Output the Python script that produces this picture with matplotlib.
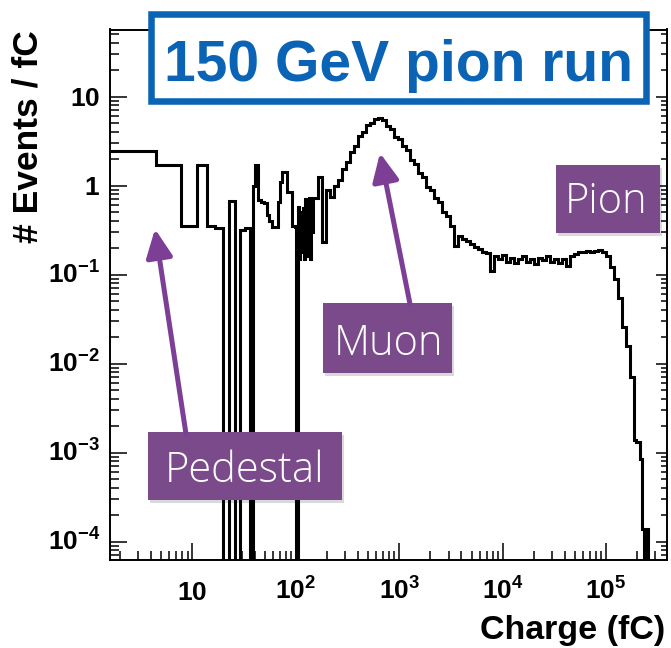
import numpy as np
import matplotlib.pyplot as plt
from matplotlib import patches, transforms
from matplotlib.ticker import FixedLocator, LogLocator, NullFormatter

# histogram: bin edges in fC, events / fC per bin (0 = empty bin)
edges = [1.6, 4.5, 7.7, 11.1, 13.9, 16.5, 19.9, 22.7, 26.0, 28.8, 32.2, 36.5, 38.5,
         40.5, 43.5, 46.5, 49.5, 52.5, 55.5, 58.5, 61.5, 64.5, 67.5, 70.5, 73.5,
         76.5, 79.5, 82.5, 85.5, 88.5, 91.5, 94.5, 97.5, 100.5, 105,
         108, 111, 114, 117, 120, 123, 126, 129, 132, 135, 138, 141, 144, 147, 150,
         164, 179, 196, 214, 234, 255, 279, 305, 334, 365,
         399, 436, 476, 521, 569, 622, 680, 744, 813, 889,
         971, 1062, 1161, 1269, 1387, 1517, 1658, 1812, 1981, 2166,
         2367, 2588, 2829, 3093, 3381, 3696, 4040, 4417, 4829, 5278,
         5770, 6307, 6895, 7537, 8240, 9006, 9845, 10760, 11770, 12860,
         14060, 15370, 16800, 18370, 20080, 21950, 23990, 26230, 28670, 31340,
         34260, 37450, 40950, 44760, 48930, 53480, 58470, 63920, 69870, 76380,
         83500, 91270, 99770, 109100, 119200, 130300, 142500, 155800, 170300, 186200,
         194600, 203500, 212800, 222500, 232600, 243200, 254200, 390000]

pedestal_counts = [2.42, 1.71, 0.35, 1.71, 0.35, 0.335, 0, 0.665, 0, 0.32, 0.335, 0]
low_counts = [1.0, 1.7, 0.69, 0.66, 0.64, 0.47, 0.4, 0.34, 0.34, 0.34, 0.66,
              1.1, 1.43, 1.43, 1.43, 0.85, 0.85, 0.85, 0.35, 0.35, 0.34, 0,
              0.58, 0.15, 0.5, 0.18, 0.56, 0.15, 0.7, 0.16, 0.65, 0.2, 0.73,
              0.15, 0.6, 0.3, 0.73]
muon_counts = [0.73, 1.26, 0.23, 0.9, 0.75, 1.0, 1.15, 1.55, 1.85, 2.4,
               2.8, 3.6, 4.0, 4.8, 5.0, 5.6, 5.8, 5.5, 4.7, 4.3,
               3.5, 3.3, 2.8, 2.5, 1.95, 1.75, 1.4, 1.25, 0.97, 0.9,
               0.73, 0.66, 0.51, 0.46, 0.35, 0.21, 0.27, 0.25, 0.235, 0.22]
pion_counts = [0.205, 0.195, 0.18, 0.175, 0.11, 0.16, 0.15, 0.165, 0.14, 0.155,
               0.135, 0.15, 0.16, 0.14, 0.15, 0.13, 0.155, 0.145, 0.16, 0.14,
               0.15, 0.135, 0.15, 0.125, 0.16, 0.17, 0.18, 0.18, 0.185, 0.18,
               0.185, 0.19, 0.18, 0.16, 0.123, 0.09, 0.055, 0.026, 0.0157, 0.007,
               0.0014, 0.0013, 0.0013, 0.00085, 0.00014, 0, 0.00014, 0]

x_ticks = [10, 1e2, 1e3, 1e4, 1e5]
x_tick_labels = [r'$\mathbf{10}$', r'$\mathbf{10^{2}}$', r'$\mathbf{10^{3}}$',
                 r'$\mathbf{10^{4}}$', r'$\mathbf{10^{5}}$']
y_ticks = [10, 1, 1e-1, 1e-2, 1e-3, 1e-4]
y_tick_labels = [r'$\mathbf{10}$', r'$\mathbf{1}$', r'$\mathbf{10^{-1}}$',
                 r'$\mathbf{10^{-2}}$', r'$\mathbf{10^{-3}}$', r'$\mathbf{10^{-4}}$']

plt.rcParams['font.family'] = 'Liberation Sans'
plt.rcParams['mathtext.fontset'] = 'custom'
plt.rcParams['mathtext.rm'] = 'Liberation Sans'
plt.rcParams['mathtext.bf'] = 'Liberation Sans:bold'

W, H = 671, 648
BLUE = '#0a63b5'
PURPLE = '#7a4a8b'
ARROW = '#7d3f96'

fig = plt.figure(figsize=(W / 100, H / 100), dpi=100)


def fx(px):
    return px / W


def fy(py):
    return 1 - py / H


ax = fig.add_axes([fx(110), fy(560), fx(667) - fx(110), fy(29.5) - fy(560)])
ax.set_xscale('log')
ax.set_yscale('log')
ax.set_xlim(1.6, 3.88e5)
ax.set_ylim(6.2e-5, 56.6)

counts = np.array(pedestal_counts + low_counts + muon_counts + pion_counts)
shown = np.where(counts > 0, counts, 1e-7)
ax.stairs(shown, edges, baseline=None, color='black', linewidth=2.2)

for s in ax.spines.values():
    s.set_linewidth(1.4)

ax.xaxis.set_major_locator(FixedLocator(x_ticks))
ax.xaxis.set_minor_locator(LogLocator(base=10, subs=np.arange(2, 10), numticks=100))
ax.yaxis.set_major_locator(FixedLocator(y_ticks))
ax.yaxis.set_minor_locator(LogLocator(base=10, subs=np.arange(2, 10), numticks=100))
ax.xaxis.set_major_formatter(NullFormatter())
ax.xaxis.set_minor_formatter(NullFormatter())
ax.yaxis.set_major_formatter(NullFormatter())
ax.yaxis.set_minor_formatter(NullFormatter())
ax.tick_params(which='both', direction='in', top=False, right=False, width=1.1)
ax.tick_params(which='major', length=12)
ax.tick_params(which='minor', length=6.5)

# shorter ticks on the right edge
axr = ax.twinx()
axr.set_yscale('log')
axr.set_ylim(ax.get_ylim())
axr.yaxis.set_major_locator(FixedLocator(y_ticks))
axr.yaxis.set_minor_locator(LogLocator(base=10, subs=np.arange(2, 10), numticks=100))
axr.yaxis.set_major_formatter(NullFormatter())
axr.yaxis.set_minor_formatter(NullFormatter())
axr.tick_params(which='both', direction='in', width=1.1)
axr.tick_params(which='major', length=8)
axr.tick_params(which='minor', length=4.5)
for s in axr.spines.values():
    s.set_visible(False)

# tick labels, baseline aligned like ROOT
xtr = transforms.blended_transform_factory(ax.transData, fig.transFigure)
for v, lab in zip(x_ticks, x_tick_labels):
    ax.text(v, fy(600), lab, transform=xtr, ha='center', va='baseline', fontsize=19)
ytr = transforms.offset_copy(transforms.blended_transform_factory(fig.transFigure, ax.transData),
                             fig=fig, y=-9.2, units='dots')
for v, lab in zip(y_ticks, y_tick_labels):
    ax.text(fx(100), v, lab, transform=ytr, ha='right', va='baseline', fontsize=19)

fig.text(fx(665), fy(639), 'Charge (fC)', ha='right', va='baseline',
         fontsize=24.5, fontweight='bold')
fig.text(fx(28), fy(30), '# Events / fC', rotation=90, ha='center', va='top',
         fontsize=25.5, fontweight='bold')

# title box
fig.add_artist(patches.Rectangle((fx(151.25), fy(100.75)), fx(645.75) - fx(151.25),
                                 fy(14.25) - fy(100.75), transform=fig.transFigure,
                                 facecolor='white', edgecolor=BLUE, linewidth=4.7, zorder=5))
fig.text(fx(399), fy(81), '150 GeV pion run', ha='center', va='baseline', fontsize=41,
         fontweight='bold', color=BLUE, zorder=6)


def label_box(x0, y0, x1, y1, text, tx, ty):
    fig.add_artist(patches.Rectangle((fx(x0 + 2), fy(y1 + 3)), fx(x1) - fx(x0), fy(y0) - fy(y1),
                                     transform=fig.transFigure, facecolor='black',
                                     edgecolor='none', alpha=0.15, zorder=5))
    fig.add_artist(patches.Rectangle((fx(x0), fy(y1)), fx(x1) - fx(x0), fy(y0) - fy(y1),
                                     transform=fig.transFigure, facecolor=PURPLE,
                                     edgecolor='none', zorder=6))
    fig.text(fx(tx), fy(ty), text, ha='center', va='baseline', color='white',
             fontsize=30, family='Open Sans', fontweight='light', zorder=7)


def arrow(x0, y0, x1, y1):
    fig.add_artist(patches.FancyArrowPatch((fx(x0), fy(y0)), (fx(x1), fy(y1)),
                                           transform=fig.transFigure,
                                           arrowstyle='-|>,head_length=17,head_width=8',
                                           mutation_scale=1, color=ARROW, linewidth=3.6,
                                           shrinkA=0, shrinkB=0, zorder=6))


label_box(556, 165, 660, 233, 'Pion', 606.5, 213)
label_box(323, 303, 452, 373, 'Muon', 388, 355)
label_box(148, 432, 342, 500, 'Pedestal', 244.5, 482)
arrow(186, 434, 155, 229)
arrow(410, 304, 380, 153)

fig.savefig('out.png', dpi=100)
